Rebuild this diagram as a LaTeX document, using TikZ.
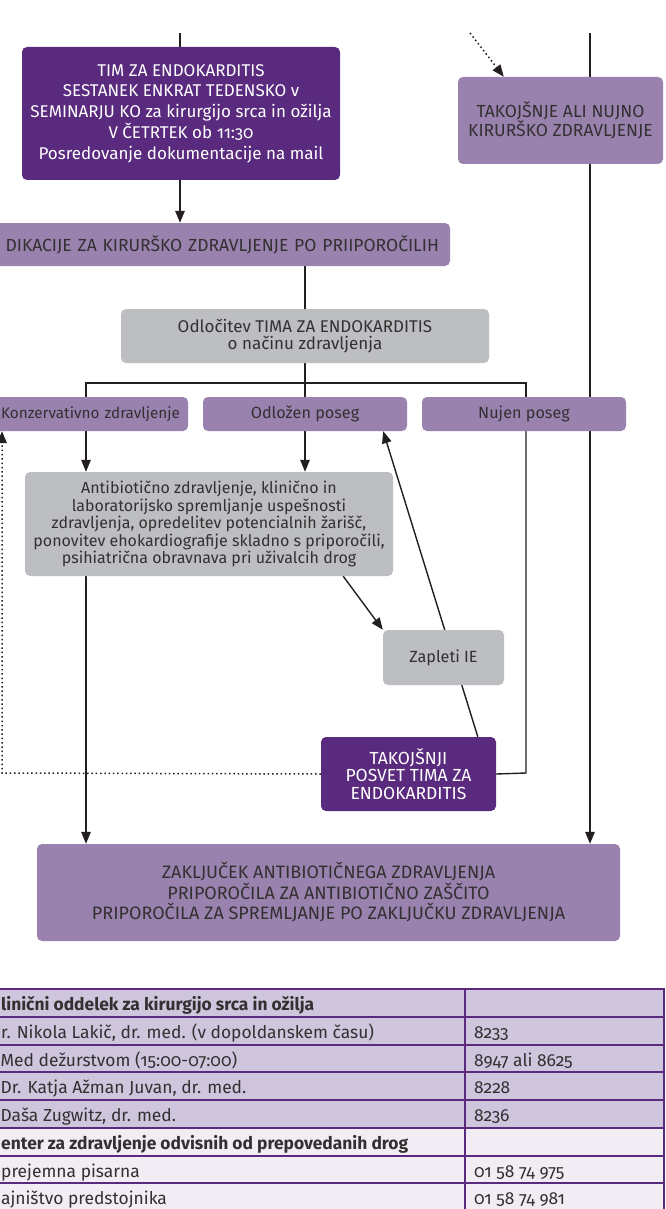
\documentclass[tikz,border=0pt]{standalone}
\usepackage{fontspec}
\setmainfont{Fira Sans}[Numbers=OldStyle]
\usetikzlibrary{arrows.meta,calc}

\definecolor{plum}{HTML}{5A2A7E}
\definecolor{lilac}{HTML}{9A82AF}
\definecolor{greybox}{HTML}{BDBEC1}
\definecolor{rowdark}{HTML}{CFC5DD}
\definecolor{rowlight}{HTML}{F0EDF4}
\definecolor{ink}{HTML}{231F20}
\definecolor{txtdark}{HTML}{333031}

% type sizes: mixed-case body text, capitals, wide-spaced blocks, table
\newcommand\flowfont{\fontsize{16.2}{17.5}\selectfont}
\newcommand\capsfont{\fontsize{17.5}{17.5}\selectfont}
\newcommand\bigflow{\fontsize{17}{20.7}\selectfont}
\newcommand\bigcaps{\fontsize{18}{20.5}\selectfont}
\newcommand\tabfont{\fontsize{17.4}{18}\selectfont}

\pgfdeclarelayer{bg}
\pgfdeclarelayer{links}
\pgfsetlayers{bg,links,main}

\tikzset{
  box/.style={rectangle, rounded corners=5pt, inner sep=0pt, align=center, font=\flowfont},
  darkbox/.style={box, fill=plum, text=white},
  lilacbox/.style={box, fill=lilac, text=txtdark},
  greybx/.style={box, fill=greybox, text=txtdark},
  link/.style={draw=ink, line width=1.4pt},
  tip/.style={-{Triangle[length=12pt,width=9.5pt]}},
  arr/.style={link, tip},
  dotlink/.style={link, line width=1.5pt, dash pattern=on 1.5pt off 2.8pt},
  rule/.style={draw=plum, line width=2pt},
  tnorm/.style={inner sep=0pt, anchor=base west, font=\tabfont, text=txtdark},
  tbold/.style={tnorm, font=\tabfont\bfseries},
}

\begin{document}
\begin{tikzpicture}[x=1pt, y=-1pt]
\useasboundingbox (0,0) rectangle (666,1209);
\begin{pgfonlayer}{bg}
  \fill[white] (0,0) rectangle (666,1209);
\end{pgfonlayer}

% free ends of the incoming lines and bend points
\coordinate (topL) at (180,33);
\coordinate (topM) at (470,33);
\coordinate (topR) at (590,33);
\coordinate (colA) at (86,383);
\coordinate (split) at (305,383);
\coordinate (colC) at (526,383);
\coordinate (bendR) at (526,773);
\coordinate (bendL) at (2,773);

% flowchart boxes
\node[darkbox, minimum width=318pt, minimum height=133pt, font=\bigflow] (tim) at (181,113.5)
  {TIM ZA ENDOKARDITIS\\SESTANEK ENKRAT TEDENSKO v\\SEMINARJU KO za kirurgijo srca in ožilja\\V ČETRTEK ob 11:30\\Posredovanje dokumentacije na mail};
\node[lilacbox, minimum width=205pt, minimum height=87pt, font=\capsfont] (urgent) at (560.5,120.5)
  {TAKOJŠNJE ALI NUJNO\\KIRURŠKO ZDRAVLJENJE};
\node[lilacbox, minimum width=490pt, minimum height=43pt, text width=468pt, align=right, font=\capsfont] (indik) at (205,244.5)
  {DIKACIJE ZA KIRURŠKO ZDRAVLJENJE PO PRIIPOROČILIH};
\node[greybx, minimum width=368pt, minimum height=54pt, font=\fontsize{17}{17.5}\selectfont] (decide) at (305,336)
  {Odločitev TIMA ZA ENDOKARDITIS\\o načinu zdravljenja};
\node[lilacbox, minimum width=218pt, minimum height=34pt, text width=202pt, align=right, font=\fontsize{15.3}{17.5}\selectfont] (konz) at (79,414)
  {Konzervativno zdravljenje};
\node[lilacbox, minimum width=204pt, minimum height=34pt] (odlozen) at (305,414) {Odložen poseg};
\node[lilacbox, minimum width=204pt, minimum height=34pt] (nujen) at (524,414) {Nujen poseg};
\node[greybx, minimum width=368pt, minimum height=104pt, font=\fontsize{16}{17.5}\selectfont] (antib) at (209,524)
  {Antibiotično zdravljenje, klinično in\\laboratorijsko spremljanje uspešnosti\\zdravljenja, opredelitev potencialnih žarišč,\\ponovitev ehokardiografije skladno s priporočili,\\psihiatrična obravnava pri uživalcih drog};
\node[greybx, minimum width=121pt, minimum height=55pt] (zapleti) at (443.5,657.5) {Zapleti IE};
\node[darkbox, minimum width=175pt, minimum height=74pt, font=\capsfont] (posvet) at (408.5,774)
  {TAKOJŠNJI\\POSVET TIMA ZA\\ENDOKARDITIS};
\node[lilacbox, minimum width=583pt, minimum height=97pt, font=\bigcaps] (zaklj) at (328.5,892.5)
  {ZAKLJUČEK ANTIBIOTIČNEGA ZDRAVLJENJA\\PRIPOROČILA ZA ANTIBIOTIČNO ZAŠČITO\\PRIPOROČILA ZA SPREMLJANJE PO ZAKLJUČKU ZDRAVLJENJA};

% connectors
\begin{pgfonlayer}{links}
  \draw[link] (topL) -- (topL |- tim.north);
  \draw[arr] (topL |- tim.south) -- (topL |- indik.north);
  \draw[dotlink, tip] (topM) -- ($(urgent.north west)+(46,0)$);
  \draw[link] (topR) -- (topR |- urgent.north);
  \draw[arr] (topR |- urgent.south) -- (topR |- zaklj.north);
  \draw[link] (decide.north |- indik.south) -- (decide.north);
  \draw[link] (decide.south) -- (split) -- (odlozen.north);
  \draw[link] (colA |- konz.north) -- (colA) -- (colC) -- (colC |- nujen.north);
  \draw[arr] (colA |- konz.south) -- (colA |- antib.north);
  \draw[arr] (odlozen.south) -- (odlozen.south |- antib.north);
  \draw[arr] (colA |- antib.south) -- (colA |- zaklj.north);
  \draw[arr] ($(antib.south east)+(-50,0)$) -- (zapleti.north west);
  \draw[arr] ($(posvet.north west)+(157,0)$) -- ($(odlozen.south east)+(-24,0)$);
  \draw[link] (colC |- nujen.south) -- (bendR) -- (posvet.east);
  \draw[dotlink, tip] (posvet.west) -- (bendL) -- (bendL |- konz.south);
\end{pgfonlayer}

% contact table
\foreach \i/\shade in {0/rowdark,1/rowdark,2/rowdark,3/rowdark,4/rowdark,5/rowlight,6/rowlight,7/rowlight}{
  \fill[\shade] (-5,989+27.75*\i) rectangle (664,989+27.75*\i+27.75);
}
\foreach \i in {0,...,8}{
  \draw[rule] (-5,989+27.75*\i) -- (665,989+27.75*\i);
}
\draw[rule] (465,988) -- (465,1215);
\draw[rule] (664,988) -- (664,1215);

\node[tbold] (l0) at (1,1010.5) {linični oddelek za kirurgijo srca in ožilja};
\node[tnorm] (l1) at (1,1038.25) {r. Nikola Lakič, dr. med. (v dopoldanskem času)};
\node[tnorm] (l2) at (0.5,1066) {Med dežurstvom (15:00-07:00)};
\node[tnorm] (l3) at (0.5,1093.75) {Dr. Katja Ažman Juvan, dr. med.};
\node[tnorm] (l4) at (0.5,1121.5) {Daša Zugwitz, dr. med.};
\node[tbold] (l5) at (1,1149.25) {enter za zdravljenje odvisnih od prepovedanih drog};
\node[tnorm] (l6) at (1,1177) {prejemna pisarna};
\node[tnorm] (l7) at (1,1204.75) {ajništvo predstojnika};

\node[tnorm] (r1) at (474,1038.25) {8233};
\node[tnorm] (r2) at (474,1066) {8947 ali 8625};
\node[tnorm] (r3) at (474,1093.75) {8228};
\node[tnorm] (r4) at (474,1121.5) {8236};
\node[tnorm] (r6) at (474,1177) {01 58 74 975};
\node[tnorm] (r7) at (474,1204.75) {01 58 74 981};
\end{tikzpicture}
\end{document}
